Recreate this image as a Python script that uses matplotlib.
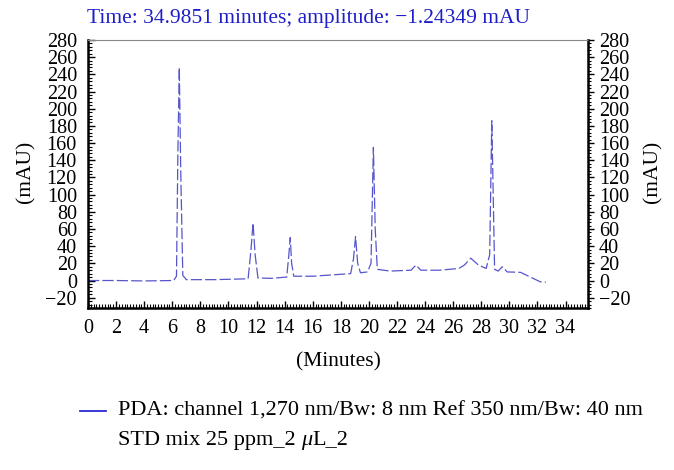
import matplotlib
matplotlib.use("Agg")
import matplotlib.pyplot as plt
from matplotlib.lines import Line2D
from matplotlib.ticker import MultipleLocator

# chromatogram trace (minutes, mAU)
time_min = [0, 2, 4, 6.1, 6.3, 6.4, 6.5, 6.6, 6.75, 7.0, 9, 11.4, 11.6, 11.75,
            11.9, 12.1, 13, 14.15, 14.3, 14.4, 14.5, 14.65, 16, 18.7, 18.9,
            19.05, 19.2, 19.4, 19.9, 20.15, 20.32, 20.45, 20.6, 21.5, 23.0,
            23.35, 23.7, 25, 26.4, 26.8, 27.25, 27.8, 28.35, 28.6, 28.75,
            28.85, 28.95, 29.2, 29.5, 29.85, 30.8, 31.5, 32.2, 32.6]
amp_mau = [0, 0, -0.5, 0, 5, 150, 248, 130, 6, 1, 1, 2, 35, 67,
           30, 3, 2.5, 4, 30, 50, 20, 5, 5, 8, 25,
           51, 20, 9, 10, 20, 155, 60, 13, 11, 12,
           18, 12, 12, 14, 18, 26, 18, 14, 30, 186,
           100, 13, 11, 16, 10, 9.5, 4, -1.5, -2]

title = "Time: 34.9851 minutes; amplitude: \u22121.24349 mAU"
legend_1 = "PDA: channel 1,270 nm/Bw: 8 nm Ref 350 nm/Bw: 40 nm"
legend_2a = "STD mix 25 ppm_2 "
legend_2b = "\u03bc"
legend_2c = "L_2"

plt.rcParams["font.family"] = ["Liberation Serif", "DejaVu Serif"]
plt.rcParams["axes.unicode_minus"] = True

fig = plt.figure(figsize=(6.74, 4.70), dpi=100)
ax = fig.add_axes([88 / 674, 1 - 308 / 470, 500 / 674, 268 / 470])

ax.plot(time_min, amp_mau, color="#5656cc", lw=0.9, ls=(0, (9, 2.5)))

ax.set_xlim(0, 35.6)
ax.set_ylim(-32, 280)
ax.xaxis.set_major_locator(MultipleLocator(2))
ax.xaxis.set_minor_locator(MultipleLocator(0.2))
ax.yaxis.set_major_locator(MultipleLocator(20))
ax.yaxis.set_minor_locator(MultipleLocator(4))

for s in ["left", "bottom", "right"]:
    ax.spines[s].set_linewidth(1.8)
    ax.spines[s].set_color("black")
ax.spines["top"].set_linewidth(0.8)
ax.spines["top"].set_color("#888888")

ax.tick_params(axis="x", which="major", direction="in", length=5, width=1,
               labelsize=14.5, pad=8, top=False)
ax.tick_params(axis="x", which="minor", direction="in", length=3, width=0.8, top=False)
ax.tick_params(axis="y", which="major", direction="in", length=5, width=1,
               labelsize=14.5, pad=8, right=False)
ax.tick_params(axis="y", which="minor", direction="in", length=3, width=0.8, right=False)

ax2 = ax.twinx()
ax2.set_ylim(ax.get_ylim())
ax2.yaxis.set_major_locator(MultipleLocator(20))
ax2.yaxis.set_minor_locator(MultipleLocator(4))
ax2.tick_params(axis="y", which="major", direction="out", length=4, width=1,
                labelsize=14.5, pad=4)
ax2.tick_params(axis="y", which="minor", direction="out", length=2.5, width=0.8)
for s in ax2.spines.values():
    s.set_visible(False)

fig.text(26 / 674, 1 - 172 / 470, "(mAU)", rotation=90, fontsize=15.5,
         ha="center", va="center")
fig.text(653 / 674, 1 - 172 / 470, "(mAU)", rotation=90, fontsize=15.5,
         ha="center", va="center")
fig.text(338 / 674, 1 - 362 / 470, "(Minutes)", fontsize=15.5,
         ha="center", va="center")
fig.text(87 / 674, 1 - 18 / 470, title, fontsize=15.5, color="#1e1ec8",
         ha="left", va="center")

fig.add_artist(Line2D([80 / 674, 106 / 674], [1 - 411 / 470, 1 - 411 / 470],
                      color="#2a2ad0", lw=1.3))
fig.text(118 / 674, 1 - 411 / 470, legend_1, fontsize=16, ha="left", va="center")
t1 = fig.text(118 / 674, 1 - 440 / 470, legend_2a, fontsize=16, ha="left", va="center")
t2 = fig.text(0, 0, legend_2b, fontsize=16, style="italic", ha="left", va="center")
t3 = fig.text(0, 0, legend_2c, fontsize=16, ha="left", va="center")

fig.canvas.draw()
r = fig.canvas.get_renderer()
b1 = t1.get_window_extent(r)
t2.set_position((b1.x1 / fig.bbox.width, 1 - 440 / 470))
b2 = t2.get_window_extent(r)
t3.set_position((b2.x1 / fig.bbox.width, 1 - 440 / 470))

fig.savefig("out.png", dpi=100)
